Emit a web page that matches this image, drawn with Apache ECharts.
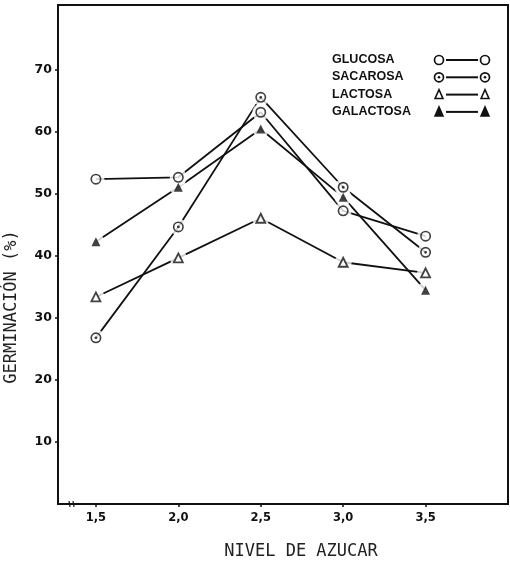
<!DOCTYPE html>
<html>
<head>
<meta charset="utf-8">
<script src="https://cdn.jsdelivr.net/npm/echarts@6/dist/echarts.min.js"></script>
<style>
html,body{margin:0;padding:0;background:#fff;}
#c{width:510px;height:564px;}
</style>
</head>
<body>
<div id="c"></div>
<script>
// ---- data ----
var levels = [1.5, 2.0, 2.5, 3.0, 3.5];
var glucosa   = [52.4, 52.7, 63.2, 47.3, 43.2];
var sacarosa  = [26.8, 44.7, 65.6, 51.1, 40.6];
var lactosa   = [33.4, 39.7, 46.1, 39.0, 37.3];
var galactosa = [42.3, 51.1, 60.5, 49.5, 34.5];
var seriesNames = ['GLUCOSA', 'SACAROSA', 'LACTOSA', 'GALACTOSA'];
var xTicks = [1.5, 2.0, 2.5, 3.0, 3.5];
var xTickLabels = ['1,5', '2,0', '2,5', '3,0', '3,5'];
var yTicks = [10, 20, 30, 40, 50, 60, 70];
var xTitle = 'NIVEL DE AZUCAR';
var yTitle = 'GERMINACIÓN (%)';

// ---- build ----
function pairs(vals){ return levels.map(function(x,i){ return [x, vals[i]]; }); }

var ringPath = 'path://M0,-10A10,10,0,1,1,0,10A10,10,0,1,1,0,-10ZM0,-7A7,7,0,1,0,0,7A7,7,0,1,0,0,-7Z';
var dotRingPath = ringPath + 'M0,-2.6A2.6,2.6,0,1,1,0,2.6A2.6,2.6,0,1,1,0,-2.6Z';

var markerDefs = [
  {vals: glucosa,   symbol: ringPath,    size: 11, color: '#111', border: null},
  {vals: sacarosa,  symbol: dotRingPath, size: 11, color: '#111', border: null},
  {vals: lactosa,   symbol: 'triangle',  size: 9,  color: '#fff', border: '#111'},
  {vals: galactosa, symbol: 'triangle',  size: 9,  color: '#111', border: null}
];

var series = [];
markerDefs.forEach(function(d, i){
  series.push({
    name: seriesNames[i], type: 'line', data: pairs(d.vals),
    symbol: 'none', z: 2, silent: true,
    lineStyle: {color: '#111', width: 1.8}
  });
});
markerDefs.forEach(function(d, i){
  series.push({
    name: seriesNames[i] + '_halo', type: 'scatter', data: pairs(d.vals),
    symbol: 'circle', symbolSize: 17, z: 3, silent: true,
    itemStyle: {color: '#fff'}
  });
});
markerDefs.forEach(function(d, i){
  var st = {color: d.color};
  if (d.border) { st.borderColor = d.border; st.borderWidth = 1.8; }
  series.push({
    name: seriesNames[i] + '_mk', type: 'scatter', data: pairs(d.vals),
    symbol: d.symbol, symbolSize: d.size, z: 4, silent: true,
    itemStyle: st
  });
});

// legend graphics (decoration)
var legendTop = 60, legendStep = 17.3, legendTextX = 332, symL = 439, symR = 485;
var graphics = [];
seriesNames.forEach(function(n, i){
  var y = legendTop + i * legendStep;
  graphics.push({type: 'text', left: legendTextX, top: y - 7,
    style: {text: n, font: 'bold 12.5px "Liberation Sans", Arial, sans-serif', fill: '#111'}});
  graphics.push({type: 'line', shape: {x1: symL + 7, y1: y, x2: symR - 7, y2: y},
    style: {stroke: '#111', lineWidth: 2}});
  [symL, symR].forEach(function(cx){
    if (i === 0 || i === 1) {
      graphics.push({type: 'circle', shape: {cx: cx, cy: y, r: 4.5}, style: {fill: '#fff', stroke: '#111', lineWidth: 1.7}});
      if (i === 1) graphics.push({type: 'circle', shape: {cx: cx, cy: y, r: 1.3}, style: {fill: '#111'}});
    } else {
      graphics.push({type: 'polygon', shape: {points: [[cx, y - 5], [cx + 4, y + 4], [cx - 4, y + 4]]},
        style: {fill: i === 3 ? '#111' : '#fff', stroke: '#111', lineWidth: 1.5}});
    }
  });
});
// axis titles
graphics.push({type: 'text', x: 12, y: 307, rotation: Math.PI / 2,
  style: {text: yTitle, font: '17px "DejaVu Sans Mono", monospace', fill: '#222', align: 'center', verticalAlign: 'middle'}});
graphics.push({type: 'text', x: 301, y: 552,
  style: {text: xTitle, font: '17px "DejaVu Sans Mono", monospace', fill: '#222', align: 'center', verticalAlign: 'middle'}});
// axis break mark
graphics.push({type: 'line', shape: {x1: 69, y1: 501, x2: 70, y2: 507}, style: {stroke: '#111', lineWidth: 1.2}});
graphics.push({type: 'line', shape: {x1: 73, y1: 501, x2: 74, y2: 507}, style: {stroke: '#111', lineWidth: 1.2}});

var chart = echarts.init(document.getElementById('c'), null, {renderer: 'canvas'});
chart.setOption({
  animation: false,
  backgroundColor: '#fff',
  grid: {left: 58, top: 5, right: 2, bottom: 60, outerBoundsMode: 'none', containLabel: false,
    show: true, borderColor: '#111', borderWidth: 2, backgroundColor: 'transparent'},
  xAxis: {
    type: 'value', min: 1.27, max: 4.0,
    axisLine: {show: true, onZero: false, lineStyle: {color: '#111', width: 2}},
    axisTick: {show: true, length: 3, customValues: xTicks, lineStyle: {color: '#111', width: 1.5}},
    axisLabel: {customValues: xTicks, margin: 8, color: '#111', fontWeight: 'bold', fontSize: 11.5,
      fontFamily: '"DejaVu Sans", Arial, sans-serif',
      formatter: function(v){ var k = xTicks.indexOf(v); return k >= 0 ? xTickLabels[k] : ''; }},
    splitLine: {show: false}
  },
  yAxis: {
    type: 'value', min: 0, max: 80.5,
    axisLine: {show: true, onZero: false, lineStyle: {color: '#111', width: 2}},
    axisTick: {show: true, length: 3, customValues: yTicks, lineStyle: {color: '#111', width: 1.5}},
    axisLabel: {customValues: yTicks, margin: 6, color: '#111', fontWeight: 'bold', fontSize: 12.5,
      fontFamily: '"DejaVu Sans", Arial, sans-serif'},
    splitLine: {show: false}
  },
  graphic: graphics,
  series: series
});
</script>
</body>
</html>
